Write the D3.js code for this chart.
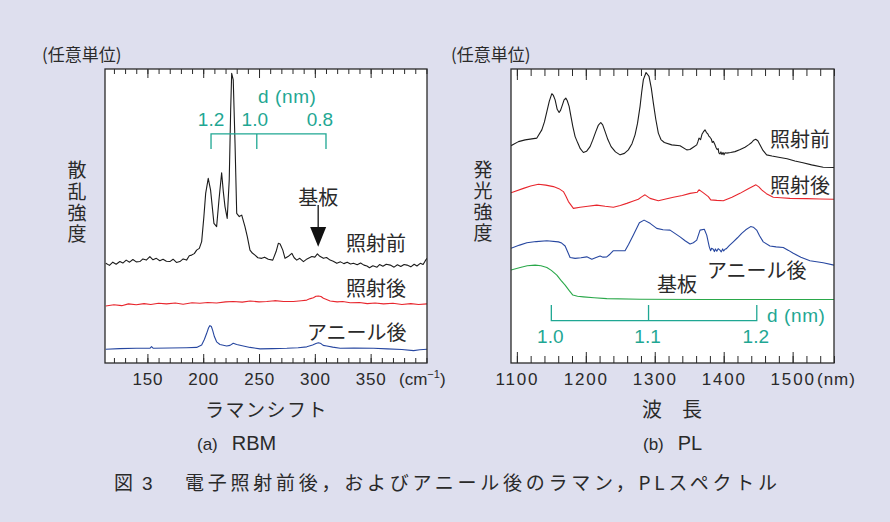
<!DOCTYPE html>
<html>
<head>
<meta charset="utf-8">
<script src="https://cdn.jsdelivr.net/npm/d3@7/dist/d3.min.js"></script>
<style>
  body { margin: 0; background: #dedfee; }
  svg { display: block; }
</style>
</head>
<body>
<script>
// ---- data ----
// (a) RBM Raman, x = Raman shift (cm-1), y = intensity (arb. units, 0-100)
const ramanBefore = [[112.7,33.9],[116,33.2],[119,34.3],[122,33.6],[125.3,34.5],[128,34.0],[131,35.0],[134,34.3],[137,35.2],[140,34.4],[143.2,34.5],[146,35.4],[149,35.0],[152.2,36.2],[155,35.1],[158,35.6],[161.1,34.8],[164,35.3],[167,34.6],[170.1,34.5],[173,35.3],[176,34.2],[179.1,34.5],[182,35.4],[185.1,35.0],[187.5,36.5],[189.6,36.7],[192,37.2],[194.1,38.4],[196.5,39.0],[198.6,41.3],[200.6,49.8],[202.2,57.7],[204.5,62.8],[206.6,58.8],[209.6,47.5],[212.0,46.4],[214.1,55.4],[216.5,64.7],[218.0,58.3],[219.5,53.2],[221.5,49.2],[223.3,62.2],[224.6,86.1],[225.5,98.5],[226.9,96.3],[228.5,74.7],[230.0,50.9],[232.3,49.8],[234.5,50.3],[237.4,46.4],[239.5,43.0],[241.9,38.4],[244,37.4],[246.4,36.7],[249,35.8],[252.4,35.6],[255,36.0],[258.3,35.3],[262.3,35.0],[265.3,37.9],[267.3,40.7],[268.9,40.5],[271.3,38.4],[273.3,35.6],[276,36.2],[279.4,37.3],[281.5,35.8],[283.8,35.0],[286.5,35.6],[289.8,34.5],[293,35.4],[297.3,36.2],[300,36.0],[302.3,37.1],[304.5,36.3],[307.7,35.6],[310.5,35.9],[313.7,35.0],[316.5,34.6],[319.7,33.9],[323,34.4],[326,33.8],[329,34.3],[332,33.7],[334.6,33.9],[338,33.4],[341,34.0],[344,33.3],[346.7,33.0],[349,32.4],[352,33.1],[355.7,32.6],[358,33.5],[361,32.9],[364,33.6],[367.6,33.3],[371,32.6],[374,33.4],[377,32.8],[380,33.5],[382.6,33.3],[386,32.7],[389,33.6],[391.5,33.0],[394.5,33.9],[397,33.5],[399,34.8],[400.5,35.6]];
const ramanIrradiated = [[112.7,19.4],[120,19.8],[127,19.5],[133,20.1],[140,19.8],[147,20.2],[153,19.9],[160,20.3],[167.1,20.1],[175,20.4],[182,20.0],[190,20.5],[197,20.3],[204,20.6],[212,20.4],[220,20.8],[226.9,20.9],[235,20.7],[242,21.1],[250,20.8],[256.9,20.9],[264,21.2],[272,20.9],[280.8,20.9],[288,21.2],[292.8,21.4],[296,21.9],[298.7,22.2],[301,22.7],[303.2,22.8],[305.5,22.6],[307.7,22.0],[310.5,21.6],[313.7,21.1],[320,20.8],[325,20.9],[331.7,20.5],[340,20.6],[347,20.2],[354,20.4],[361.6,20.1],[370,20.3],[378,19.9],[386,20.2],[393,19.9],[400.5,20.1]];
const ramanAnnealed = [[112.7,4.7],[125,4.9],[140,5.0],[152.2,5.0],[153.7,5.6],[155.3,5.0],[170,5.1],[185,5.2],[194.1,5.3],[198.6,6.1],[201,8.0],[203.1,10.1],[204.8,12.0],[206.0,12.7],[207.3,12.4],[208.4,11.2],[210,9.0],[212.0,7.2],[215,6.3],[221.0,5.8],[224,6.0],[226.9,6.7],[230,6.3],[235.9,5.8],[242,5.3],[250.9,4.8],[262,4.9],[274.9,5.0],[285,5.2],[292.8,5.5],[298,6.1],[301,6.6],[303.2,6.9],[305.5,6.6],[307.5,6.0],[310.8,5.8],[316,5.4],[322.7,5.0],[335,5.1],[352.6,5.0],[365,4.8],[378,4.6],[388.5,4.2],[394,4.5],[400.5,4.7]];
const ramanTicks = [150, 200, 250, 300, 350];
const ramanDiameters = ['1.2', '1.0', '0.8'];
const ramanDiameterShift = [207, 248, 310];
const ramanSubstratePeak = 303;

// (b) PL, x = wavelength (nm), y = intensity (arb. units, 0-100)
const plBefore = [[1091.5,73.9],[1102.3,75.3],[1112.0,75.9],[1129.0,76.5],[1136.2,79.3],[1140,82.0],[1143.5,85.5],[1147,89.0],[1150.7,91.6],[1153,91.0],[1155.5,89.5],[1158.5,86.3],[1161.3,85.2],[1163.5,86.0],[1166.1,87.8],[1168.5,89.5],[1171.0,90.1],[1173,89.3],[1175.8,87.3],[1178.5,83.8],[1181.2,80.4],[1184.5,77.0],[1188.4,74.8],[1192,72.9],[1196.5,71.6],[1201,72.0],[1206.2,73.6],[1210,75.8],[1214.5,78.7],[1218,80.8],[1221.7,81.8],[1224.5,81.0],[1228.0,78.7],[1232,76.0],[1236.7,73.6],[1243,71.8],[1249.7,70.8],[1256,71.3],[1261.7,72.5],[1267,74.6],[1271.4,77.6],[1275,81.5],[1278.7,87.3],[1281,92.0],[1283.5,96.4],[1287.4,98.8],[1291.7,97.5],[1295,93.5],[1298.0,88.4],[1301.5,82.9],[1305.2,78.2],[1309,76.0],[1313.9,75.0],[1324.6,74.2],[1336.7,73.9],[1346.4,72.5],[1351,72.6],[1355.9,73.4],[1360.9,74.2],[1362.5,75.2],[1364.2,76.5],[1366.5,76.0],[1368.5,77.8],[1370.5,78.6],[1372.9,79.3],[1375,78.4],[1377,77.9],[1378.5,77.2],[1380.1,76.8],[1382,76.2],[1383.5,75.0],[1385,75.4],[1387.4,74.2],[1389,73.2],[1390.5,72.6],[1392,72.9],[1393,71.5],[1394.6,71.1],[1396,71.8],[1397.5,70.9],[1399,71.6],[1400.5,70.8],[1402,71.5],[1404.3,71.4],[1410,71.6],[1416.4,71.9],[1424,72.6],[1430.9,73.4],[1436,74.2],[1440.6,75.0],[1443.5,75.8],[1446.4,76.1],[1449.5,75.6],[1452.6,74.2],[1457,72.3],[1462.3,70.8],[1470,70.4],[1481.6,69.9],[1492,69.5],[1503.3,68.7],[1515,68.1],[1527.5,67.4],[1544.3,66.6],[1560,66.5]];
const plIrradiated = [[1091.5,57.9],[1109.6,59.4],[1120,60.2],[1131.3,60.8],[1142,60.5],[1153.0,60.0],[1161,59.3],[1167.5,58.3],[1171,56.8],[1174.8,54.9],[1182.0,52.6],[1191.7,53.0],[1203,53.3],[1215.9,53.7],[1228,53.3],[1240.0,53.0],[1250,53.6],[1259.4,54.3],[1268,55.0],[1276.2,55.7],[1281,56.5],[1285.9,57.2],[1293.2,56.0],[1305.2,55.2],[1316,55.8],[1327.0,56.4],[1340,57.0],[1351.2,57.7],[1361.7,58.1],[1364.2,58.9],[1368.1,58.3],[1372,57.6],[1377.7,56.6],[1381.2,55.5],[1390,55.3],[1399.4,55.2],[1412,56.4],[1423.6,57.7],[1435,59.2],[1446.8,60.6],[1451,59.9],[1455.1,58.9],[1462,57.6],[1471.9,56.4],[1483,56.2],[1496.1,56.0],[1520,55.9],[1540,55.8],[1560,55.7]];
const plAnnealed = [[1091.5,39.0],[1104,40.1],[1114.5,40.9],[1128,41.3],[1143.5,41.6],[1160.3,41.2],[1165,40.8],[1170.0,39.8],[1177.2,35.9],[1184.5,35.6],[1193,35.8],[1201.4,36.1],[1208.7,35.3],[1214,35.8],[1220.7,36.4],[1225,36.0],[1230.4,36.1],[1235,37.0],[1240.0,38.2],[1256.9,38.2],[1262,40.3],[1269.0,43.5],[1277.7,47.7],[1284.5,48.6],[1293.2,47.5],[1302.9,45.8],[1312,45.3],[1322.2,45.2],[1336.7,42.9],[1344,41.6],[1351.2,40.5],[1356,40.9],[1360.9,41.8],[1365.7,45.2],[1371.9,45.5],[1375.4,43.5],[1379.1,39.5],[1381,38.2],[1382.5,39.0],[1384.9,38.7],[1386.5,37.9],[1388,38.8],[1390,38.0],[1392,38.9],[1394.6,38.4],[1396.5,37.8],[1398.5,38.8],[1400,38.1],[1401.9,38.7],[1404,38.9],[1408,39.9],[1413.9,41.2],[1420,42.6],[1426.1,44.1],[1432,45.3],[1439.1,46.4],[1443,46.2],[1447.8,45.2],[1452,43.3],[1457.4,41.2],[1467.1,39.8],[1476,39.5],[1486.4,39.3],[1494,38.3],[1500.9,37.3],[1512,36.0],[1525.1,34.8],[1544.3,34.1],[1560,33.3]];
const plSubstrate = [[1091.5,31.6],[1104.8,32.5],[1115,33.1],[1126.5,33.3],[1135,33.1],[1143.5,32.5],[1150,31.5],[1158.0,29.9],[1164,28.1],[1170.0,26.5],[1176,24.6],[1181.2,23.1],[1188,22.7],[1196.5,22.5],[1212,22.2],[1230.4,21.9],[1278.7,21.7],[1375.4,21.6],[1560,21.6]];
const plTicks = [1100, 1200, 1300, 1400, 1500];
const plDiameters = ['1.0', '1.1', '1.2'];
const plDiameterWavelength = [1150, 1291, 1448];

// ---- drawing ----
const W = 890, H = 522;
const JP = "'Noto Sans CJK JP', 'Noto Sans', sans-serif";
const LAT = "'Liberation Sans', Arial, sans-serif";
const TEAL = '#1fa793';
const INK = '#2a2a2a';

const svg = d3.select('body').append('svg')
  .attr('width', W)
  .attr('height', H);

svg.append('rect')
  .attr('width', W)
  .attr('height', H)
  .attr('fill', '#dedfee');

const line = d3.line().curve(d3.curveLinear);

function drawPanel(cfg) {
  const x = d3.scaleLinear().domain(cfg.xDomain).range([cfg.left, cfg.right]);
  const y = d3.scaleLinear().domain([0, 100]).range([cfg.bottom, cfg.top]);
  const g = svg.append('g').attr('class', 'panel-' + cfg.id);

  g.append('rect')
    .attr('x', cfg.left)
    .attr('y', cfg.top)
    .attr('width', cfg.right - cfg.left)
    .attr('height', cfg.bottom - cfg.top)
    .attr('fill', '#ffffff');

  g.append('clipPath')
    .attr('id', 'clip-' + cfg.id)
    .append('rect')
    .attr('x', cfg.left)
    .attr('y', cfg.top - 2)
    .attr('width', cfg.right - cfg.left)
    .attr('height', cfg.bottom - cfg.top + 2);

  // spectra
  g.append('g')
    .attr('clip-path', 'url(#clip-' + cfg.id + ')')
    .selectAll('path')
    .data(cfg.series)
    .enter().append('path')
      .attr('d', d => line.x(p => x(p[0])).y(p => y(p[1]))(d.values))
      .attr('fill', 'none')
      .attr('stroke', d => d.color)
      .attr('stroke-width', 1.1)
      .attr('stroke-linejoin', 'round');

  // ticks (inward, top and bottom)
  const clean = sel => {
    sel.select('.domain').remove();
    sel.selectAll('line').attr('stroke', INK).attr('stroke-width', 1);
  };
  g.append('g')
    .attr('transform', 'translate(0,' + cfg.bottom + ')')
    .call(d3.axisBottom(x).tickValues(cfg.minor).tickSize(-cfg.minorLen).tickFormat(''))
    .call(clean);
  g.append('g')
    .attr('transform', 'translate(0,' + cfg.top + ')')
    .call(d3.axisTop(x).tickValues(cfg.minor).tickSize(-cfg.minorLen).tickFormat(''))
    .call(clean);
  g.append('g')
    .attr('transform', 'translate(0,' + cfg.top + ')')
    .call(d3.axisTop(x).tickValues(cfg.major).tickSize(-cfg.majorLen).tickFormat(''))
    .call(clean);
  const xAxis = g.append('g')
    .attr('transform', 'translate(0,' + cfg.bottom + ')')
    .call(d3.axisBottom(x).tickValues(cfg.major).tickSize(-cfg.majorLen).tickPadding(10).tickFormat(d3.format('d')))
    .call(clean);
  xAxis.selectAll('text')
    .attr('fill', INK)
    .attr('font-family', LAT)
    .attr('font-size', 17)
    .attr('letter-spacing', cfg.tickSpacing);

  // frame
  g.append('rect')
    .attr('x', cfg.left)
    .attr('y', cfg.top)
    .attr('width', cfg.right - cfg.left)
    .attr('height', cfg.bottom - cfg.top)
    .attr('fill', 'none')
    .attr('stroke', INK)
    .attr('stroke-width', 1.3);

  return { g, x, y };
}

function jpText(parent, str, px, py, size, anchor) {
  return parent.append('text')
    .attr('x', px)
    .attr('y', py)
    .attr('font-family', JP)
    .attr('font-size', size || 20)
    .attr('fill', INK)
    .attr('text-anchor', anchor || 'start')
    .text(str);
}

// vertical (tategaki) axis title as a single text element
function verticalLabel(str, cx, top, step) {
  svg.append('text')
    .attr('x', cx)
    .attr('y', top)
    .attr('font-family', JP)
    .attr('font-size', 19)
    .attr('fill', INK)
    .style('writing-mode', 'vertical-rl')
    .attr('letter-spacing', step - 19)
    .text(str);
}

// (a) RBM
const ramanMinor = d3.range(120, 401, 10);
const left = drawPanel({
  id: 'rbm', left: 105, right: 427, top: 69, bottom: 363,
  xDomain: [112, 400.5],
  minor: ramanMinor, major: ramanTicks,
  minorLen: 5, majorLen: 9, tickSpacing: 0.8,
  series: [
    { values: ramanBefore, color: '#1c1c1c' },
    { values: ramanIrradiated, color: '#e8262d' },
    { values: ramanAnnealed, color: '#2747a0' }
  ]
});

// (b) PL
const plMinor = d3.range(1100, 1561, 20);
const right = drawPanel({
  id: 'pl', left: 511, right: 834, top: 69, bottom: 363,
  xDomain: [1091.5, 1560],
  minor: plMinor, major: plTicks,
  minorLen: 7, majorLen: 11, tickSpacing: 1.8,
  series: [
    { values: plBefore, color: '#1c1c1c' },
    { values: plIrradiated, color: '#e8262d' },
    { values: plAnnealed, color: '#2747a0' },
    { values: plSubstrate, color: '#2aa84a' }
  ]
});

// diameter bracket, RBM (ticks hang down)
(function() {
  const { g, x, y } = left;
  const xs = ramanDiameterShift.map(v => x(v));
  const yBar = y(77.9), yEnd = y(72.8);
  g.append('path')
    .attr('d', 'M' + xs[0] + ',' + yEnd + 'V' + yBar + 'H' + xs[2] + 'V' + yEnd +
               'M' + xs[1] + ',' + yBar + 'V' + yEnd)
    .attr('fill', 'none')
    .attr('stroke', TEAL)
    .attr('stroke-width', 1.3);
  g.selectAll('.dlab')
    .data(ramanDiameters)
    .enter().append('text')
      .attr('x', (d, i) => xs[i] + [0, -2, -6][i])
      .attr('y', y(80.6))
      .attr('text-anchor', 'middle')
      .attr('font-family', LAT)
      .attr('font-size', 19)
      .attr('fill', TEAL)
      .text(d => d);
  g.append('text')
    .attr('x', 258)
    .attr('y', y(88.5))
    .attr('font-family', LAT)
    .attr('font-size', 19)
    .attr('letter-spacing', 0.6)
    .attr('fill', TEAL)
    .text('d (nm)');

  // substrate arrow
  const ax = x(ramanSubstratePeak);
  g.append('line')
    .attr('x1', ax).attr('x2', ax)
    .attr('y1', y(53.7)).attr('y2', y(45))
    .attr('stroke', '#111')
    .attr('stroke-width', 1.3);
  g.append('path')
    .attr('d', 'M' + (ax - 8) + ',' + y(46.3) + 'L' + (ax + 8) + ',' + y(46.3) + 'L' + ax + ',' + y(39.5) + 'Z')
    .attr('fill', '#111');
  jpText(g, '基板', ax, 204.5, 20, 'middle');

  jpText(g, '照射前', 346, 250.5, 20);
  jpText(g, '照射後', 346, 295.5, 20);
  jpText(g, 'アニール後', 307, 339.5, 20);
})();

// diameter bracket, PL (ticks point up)
(function() {
  const { g, x, y } = right;
  const xs = plDiameterWavelength.map(v => x(v));
  const yBar = y(14.4), yEnd = y(19.7);
  g.append('path')
    .attr('d', 'M' + xs[0] + ',' + yEnd + 'V' + yBar + 'H' + xs[2] + 'V' + yEnd +
               'M' + xs[1] + ',' + yBar + 'V' + yEnd)
    .attr('fill', 'none')
    .attr('stroke', TEAL)
    .attr('stroke-width', 1.3);
  g.selectAll('.dlab')
    .data(plDiameters)
    .enter().append('text')
      .attr('x', (d, i) => xs[i] - 1)
      .attr('y', y(6.7))
      .attr('text-anchor', 'middle')
      .attr('font-family', LAT)
      .attr('font-size', 19)
      .attr('fill', TEAL)
      .text(d => d);
  g.append('text')
    .attr('x', 767)
    .attr('y', y(14.0))
    .attr('font-family', LAT)
    .attr('font-size', 19)
    .attr('letter-spacing', 0.6)
    .attr('fill', TEAL)
    .text('d (nm)');

  jpText(g, '照射前', 770, 146.5, 20);
  jpText(g, '照射後', 770, 192.5, 20);
  jpText(g, 'アニール後', 707, 277.5, 20);
  jpText(g, '基板', 657, 291.5, 20);
})();

// units and axis titles
jpText(svg, '(任意単位)', 42, 61, 17);
jpText(svg, '(任意単位)', 451, 61, 17);
verticalLabel('散乱強度', 77, 160.5, 21.3);
verticalLabel('発光強度', 483, 160.5, 21);

const cm = svg.append('text')
  .attr('x', 399)
  .attr('y', 385)
  .attr('font-family', LAT)
  .attr('font-size', 17)
  .attr('fill', INK);
cm.append('tspan').text('(cm');
cm.append('tspan').attr('font-size', 11).attr('dy', -7).text('−1');
cm.append('tspan').attr('dy', 7).text(')');

svg.append('text')
  .attr('x', 817)
  .attr('y', 385)
  .attr('font-family', LAT)
  .attr('font-size', 17)
  .attr('letter-spacing', 1)
  .attr('fill', INK)
  .text('(nm)');

jpText(svg, 'ラマンシフト', 205, 417, 19).attr('letter-spacing', 1.5);
jpText(svg, '波　長', 642, 417, 20);

function caption(px, tag, name) {
  const t = svg.append('text')
    .attr('x', px)
    .attr('y', 450)
    .attr('font-family', LAT)
    .attr('fill', INK);
  t.append('tspan').attr('font-size', 17).text(tag);
  t.append('tspan').attr('font-size', 20).attr('dx', 14).text(name);
}
caption(197, '(a)', 'RBM');
caption(643, '(b)', 'PL');

// figure caption
const fig = jpText(svg, '図', 114, 490, 19);
fig.append('tspan').attr('dx', 9).attr('font-family', LAT).text('3');
jpText(svg, '電子照射前後，およびアニール後のラマン，PLスペクトル', 185, 490, 19)
  .attr('textLength', 592)
  .attr('lengthAdjust', 'spacing');
</script>
</body>
</html>
